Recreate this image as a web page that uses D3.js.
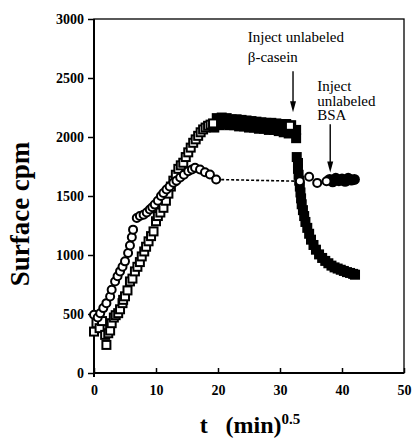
<!DOCTYPE html>
<html><head><meta charset="utf-8">
<script src="https://cdn.jsdelivr.net/npm/d3@7"></script>
<style>body{margin:0;background:#fff}svg{display:block}text{font-family:"Liberation Serif","Times New Roman",serif}</style>
</head><body><svg id="c" width="412" height="440"></svg>
<script>
// ---- data ----
const xTicks = [0, 10, 20, 30, 40, 50];
const yTicks = [0, 500, 1000, 1500, 2000, 2500, 3000];
// open squares (beta-casein, rising phase)
const sqOpenT = [0, 0.4, 0.9, 1.3, 1.8, 2.0, 2.3, 2.6, 2.85, 3.2, 3.5, 3.9, 4.2, 4.6, 4.7, 5.0, 5.4, 5.8, 6.2, 6.6, 7.0, 7.4, 7.7, 8.1, 8.4, 8.8, 9.2, 9.6, 10.0, 10.3, 10.7, 11.2, 11.6, 12.0, 12.4, 12.8, 13.2, 13.6, 14.0, 14.4, 14.8, 15.2, 15.6, 16.0, 16.4, 16.8, 17.2, 17.6, 18.0, 18.4, 18.8, 19.2, 31.6];
const sqOpenV = [351, 422, 380, 440, 323, 238, 337, 360, 422, 470, 490, 507, 540, 592, 620, 650, 700, 776, 800, 861, 900, 940, 988, 1030, 1070, 1116, 1160, 1200, 1286, 1330, 1360, 1400, 1460, 1520, 1580, 1630, 1680, 1730, 1760, 1782, 1830, 1870, 1910, 1951, 1980, 2010, 2040, 2064, 2080, 2095, 2105, 2115, 2095];
// dense squares (plateau and displacement)
const sqFillT = [19.4, 19.8, 20.2, 20.6, 21.0, 21.4, 21.8, 22.2, 22.6, 23.0, 23.4, 23.8, 24.2, 24.6, 25.0, 25.4, 25.8, 26.2, 26.6, 27.0, 27.4, 27.8, 28.2, 28.6, 29.0, 29.4, 29.8, 30.2, 30.6, 31.0, 31.4, 31.8, 32.2,
  32.6, 32.6, 32.7, 32.9, 32.9, 33.0, 33.1, 33.2, 33.3, 33.4, 33.5, 33.7, 33.9, 34.1, 34.4, 34.7, 35.0, 35.4, 35.8, 36.3, 36.8, 37.3, 37.8, 38.3, 38.8, 39.3, 39.8, 40.3, 40.8, 41.3, 41.8, 42.1];
const sqFillV = [2080, 2160, 2100, 2165, 2110, 2160, 2100, 2150, 2100, 2150, 2090, 2145, 2090, 2140, 2080, 2135, 2080, 2130, 2070, 2125, 2070, 2120, 2060, 2120, 2060, 2115, 2050, 2110, 2040, 2110, 2030, 2100, 2040,
  2060, 1990, 1830, 1780, 1730, 1680, 1630, 1580, 1530, 1480, 1430, 1380, 1330, 1280, 1230, 1180, 1130, 1085, 1045, 1005, 975, 950, 930, 910, 895, 885, 875, 865, 855, 848, 840, 833];
// open circles (labeled BSA)
const ciOpenT = [0, 0.6, 1.0, 1.5, 2.0, 2.6, 2.85, 3.4, 3.8, 4.2, 4.6, 5.0, 5.5, 5.8, 6.1, 6.3, 6.9, 7.4, 8.0, 8.5, 9.0, 9.4, 9.8, 10.3, 10.8, 11.2, 11.7, 12.2, 12.8, 13.3, 13.9, 14.5, 15.2, 15.8, 16.3, 17.1, 17.9, 18.7, 19.7, 33.2, 34.7, 36.0, 37.5];
const ciOpenV = [493, 470, 507, 550, 592, 648, 705, 776, 820, 861, 900, 946, 1017, 1080, 1150, 1215, 1314, 1330, 1342, 1360, 1385, 1405, 1427, 1460, 1500, 1525, 1555, 1580, 1612, 1630, 1657, 1680, 1710, 1725, 1739, 1725, 1702, 1682, 1640, 1625, 1663, 1611, 1625];
// dense circles after BSA injection
const ciFillT = [38.0, 38.5, 39.0, 39.5, 40.0, 40.5, 41.0, 41.5, 42.0];
const ciFillV = [1640, 1620, 1650, 1630, 1645, 1625, 1650, 1635, 1640];
// dashed connector
const dashT = [19.7, 33.2];
const dashV = [1640, 1625];

// ---- chart ----
const svg = d3.select("#c");
const x = d3.scaleLinear().domain([0, 50]).range([94, 404]);
const y = d3.scaleLinear().domain([0, 3000]).range([373, 19]);

// frame
svg.append("rect").attr("x", x(0)).attr("y", y(3000)).attr("width", x(50) - x(0)).attr("height", y(0) - y(3000))
  .attr("fill", "none").attr("stroke", "#000").attr("stroke-width", 1.3);
svg.append("line").attr("x1", x(0)).attr("x2", x(0)).attr("y1", y(3000)).attr("y2", y(0) + 4).attr("stroke", "#000").attr("stroke-width", 2);
svg.append("line").attr("x1", x(0)).attr("x2", x(50)).attr("y1", y(0)).attr("y2", y(0)).attr("stroke", "#000").attr("stroke-width", 2);

const yAxis = d3.axisLeft(y).tickValues(yTicks).tickSize(6).tickPadding(4).tickFormat(d3.format("d"));
const gy = svg.append("g").attr("transform", `translate(${x(0)},0)`).call(yAxis);
gy.select(".domain").remove();
gy.selectAll("line").attr("stroke-width", 1.5);
gy.selectAll("text").attr("font-size", 14).attr("font-weight", "bold").attr("font-family", "Liberation Serif");

const xAxis = d3.axisBottom(x).tickValues(xTicks).tickSize(-5).tickPadding(12).tickFormat(d3.format("d"));
const gx = svg.append("g").attr("transform", `translate(0,${y(0)})`).call(xAxis);
gx.select(".domain").remove();
gx.selectAll("line").attr("stroke-width", 1.5);
gx.selectAll("text").attr("font-size", 14).attr("font-weight", "bold").attr("font-family", "Liberation Serif");

// axis titles
svg.append("text").attr("transform", `translate(29,${214}) rotate(-90)`).attr("text-anchor", "middle")
  .attr("font-size", 27).attr("font-weight", "bold").text("Surface cpm");
const xt = svg.append("text").attr("x", 250).attr("y", 433).attr("text-anchor", "middle")
  .attr("font-size", 24).attr("font-weight", "bold");
xt.append("tspan").text("t\u00a0\u00a0\u00a0(min)");
xt.append("tspan").attr("dy", -9).attr("font-size", 15).text("0.5");

// dashed line
svg.append("path").datum(dashT.map((t, i) => [t, dashV[i]]))
  .attr("d", d3.line().x(d => x(d[0])).y(d => y(d[1])))
  .attr("stroke", "#000").attr("stroke-width", 1.6).attr("stroke-dasharray", "3,2").attr("fill", "none");

// squares
const sqF = 10, sqO = 8;
svg.append("g").selectAll("rect").data(sqFillT.map((t, i) => [t, sqFillV[i]])).join("rect")
  .attr("x", d => x(d[0]) - sqF / 2).attr("y", d => y(d[1]) - sqF / 2).attr("width", sqF).attr("height", sqF)
  .attr("fill", "#000");
svg.append("g").selectAll("rect").data(sqOpenT.map((t, i) => [t, sqOpenV[i]])).join("rect")
  .attr("x", d => x(d[0]) - sqO / 2).attr("y", d => y(d[1]) - sqO / 2).attr("width", sqO).attr("height", sqO)
  .attr("fill", "#fff").attr("stroke", "#000").attr("stroke-width", 2);

// circles
svg.append("g").selectAll("circle").data(ciFillT.map((t, i) => [t, ciFillV[i]])).join("circle")
  .attr("cx", d => x(d[0])).attr("cy", d => y(d[1])).attr("r", 5.5).attr("fill", "#000");
svg.append("g").selectAll("circle").data(ciOpenT.map((t, i) => [t, ciOpenV[i]])).join("circle")
  .attr("cx", d => x(d[0])).attr("cy", d => y(d[1])).attr("r", 4).attr("fill", "#fff").attr("stroke", "#000").attr("stroke-width", 2);

// annotations
function arrow(t, v0, v1) {
  const xp = x(t), y0 = y(v0), y1 = y(v1);
  svg.append("line").attr("x1", xp).attr("x2", xp).attr("y1", y0).attr("y2", y1 - 8).attr("stroke", "#000").attr("stroke-width", 1.4);
  svg.append("path").attr("d", `M${xp - 3},${y1 - 11}L${xp + 3},${y1 - 11}L${xp},${y1}Z`).attr("fill", "#000");
}
arrow(32.1, 2557, 2209);
arrow(38.1, 2107, 1699);
function label(t, v, lines, lh) {
  const tx = svg.append("text").attr("x", x(t)).attr("y", y(v)).attr("font-size", 15);
  lines.forEach((s, i) => tx.append("tspan").attr("x", x(t)).attr("dy", i ? lh : 0).text(s));
}
label(24.8, 2804, ["Inject unlabeled", "\u03b2-casein"], 20);
label(36.0, 2387, ["Inject", "unlabeled", "BSA"], 14.5);
</script></body></html>
